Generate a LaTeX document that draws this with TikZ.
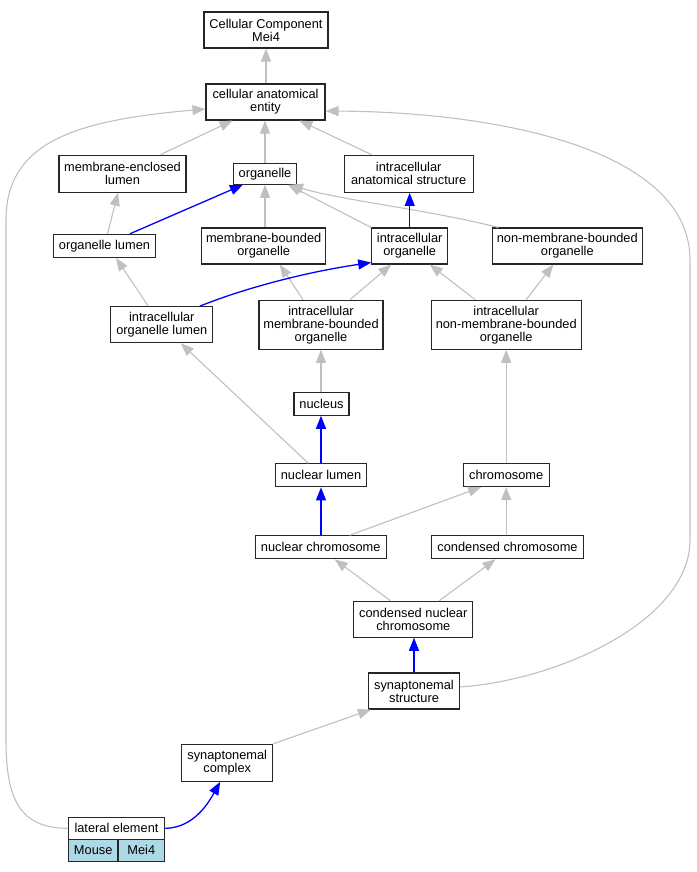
\documentclass[tikz,border=0pt]{standalone}
\usepackage{fontspec}
\setmainfont{Liberation Sans}
\usetikzlibrary{arrows.meta}
\definecolor{speciesblue}{HTML}{ADD8E6}
\definecolor{isagray}{HTML}{C0C0C0}

\tikzset{
	term/.style={draw=black!85, line width=1.1pt, fill=white, align=center,
		inner sep=0pt, font=\fontsize{12.8}{13}\selectfont},
	isa/.style={draw=isagray, line width=1.1pt, -{Triangle[length=13pt,width=10pt]}},
	partof/.style={draw=blue, line width=1.3pt, -{Triangle[length=13pt,width=10pt]}},
}

\begin{document}
\begin{tikzpicture}[x=1pt, y=-1pt]
	\useasboundingbox (0,0) rectangle (696,872);
	% terms
	\node[term, minimum width=124pt, minimum height=36pt] (cc) at (266,30) {Cellular Component\\Mei4};
	\node[term, minimum width=119pt, minimum height=36pt] (cae) at (265.5,102) {cellular anatomical\\entity};
	\node[term, minimum width=127pt, minimum height=37pt] (mel) at (122.5,173.7) {membrane-enclosed\\lumen};
	\node[term, minimum width=63pt, minimum height=21pt] (org) at (265,173.7) {organelle};
	\node[term, minimum width=129pt, minimum height=37pt] (ias) at (408.7,173.8) {intracellular\\anatomical structure};
	\node[term, minimum width=102pt, minimum height=23pt] (ol) at (104.5,245.8) {organelle lumen};
	\node[term, minimum width=124pt, minimum height=36pt] (mbo) at (263.7,246) {membrane-bounded\\organelle};
	\node[term, minimum width=76pt, minimum height=36pt] (io) at (409.7,246) {intracellular\\organelle};
	\node[term, minimum width=150pt, minimum height=36pt] (nmbo) at (567.3,246) {non-membrane-bounded\\organelle};
	\node[term, minimum width=102pt, minimum height=36pt] (iol) at (161.8,324.7) {intracellular\\organelle lumen};
	\node[term, minimum width=124pt, minimum height=49pt] (imbo) at (321,324.7) {intracellular\\membrane-bounded\\organelle};
	\node[term, minimum width=150pt, minimum height=49pt] (inmbo) at (506.2,324.7) {intracellular\\non-membrane-bounded\\organelle};
	\node[term, minimum width=55pt, minimum height=23pt] (nuc) at (321.5,403.7) {nucleus};
	\node[term, minimum width=91pt, minimum height=23pt] (nl) at (321,475.3) {nuclear lumen};
	\node[term, minimum width=86pt, minimum height=23pt] (chr) at (506.2,475) {chromosome};
	\node[term, minimum width=131pt, minimum height=23pt] (nchr) at (320.7,547.3) {nuclear chromosome};
	\node[term, minimum width=152pt, minimum height=23pt] (cchr) at (507.5,547.3) {condensed chromosome};
	\node[term, minimum width=119pt, minimum height=36pt] (cnc) at (413.3,619.2) {condensed nuclear\\chromosome};
	\node[term, minimum width=91pt, minimum height=36pt] (ss) at (414,691) {synaptonemal\\structure};
	\node[term, minimum width=91pt, minimum height=37pt] (sc) at (227.2,762.8) {synaptonemal\\complex};
	\node[term, minimum width=96.4pt, minimum height=22pt] (le) at (116.5,828.3) {lateral element};
	\node[term, fill=speciesblue, minimum width=49.7pt, minimum height=21.7pt] (mouse) at (93.2,850.2) {Mouse};
	\node[term, fill=speciesblue, minimum width=46.7pt, minimum height=21.7pt] (mei) at (141.3,850.2) {Mei4};

	% is_a
	\draw[isa] (cae.north -| cc) -- (cc.south);
	\draw[isa] ([xshift=38pt]mel.north) -- ([xshift=-33pt]cae.south);
	\draw[isa] (org.north) -- (org.north |- cae.south);
	\draw[isa] ([xshift=-37pt]ias.north) -- ([xshift=34pt]cae.south);
	\draw[isa] (le.west) .. controls (20,828) and (6,800) .. (6,740) -- (6,220)
		.. controls (6,140) and (80,120) .. ([yshift=-7pt]cae.west);
	\draw[isa] ([yshift=4pt]ss.east) .. controls (560,680) and (690,620) .. (690,540) -- (690,260)
		.. controls (690,150) and (500,112) .. ([yshift=-9pt]cae.east);
	\draw[isa] ([xshift=3pt]ol.north) -- ([xshift=-4.5pt]mel.south);
	\draw[isa] (mbo.north -| org) -- (org.south);
	\draw[isa] (io.north west) -- ([xshift=23pt]org.south);
	\draw[isa] ([xshift=-69pt]nmbo.north) .. controls (430,210) and (340,200) .. ([xshift=25pt]org.south);
	\draw[isa] ([xshift=-13.5pt]iol.north) -- ([xshift=11.5pt]ol.south);
	\draw[isa] ([xshift=-18pt]imbo.north) -- ([xshift=16pt]mbo.south);
	\draw[isa] ([xshift=29pt]imbo.north) -- ([xshift=-18.5pt]io.south);
	\draw[isa] ([xshift=-31pt]inmbo.north) -- ([xshift=20pt]io.south);
	\draw[isa] ([xshift=20pt]inmbo.north) -- ([xshift=-14pt]nmbo.south);
	\draw[isa] (nuc.north -| imbo) -- (imbo.south);
	\draw[isa] ([xshift=-12.7pt]nl.north) -- ([xshift=19pt]iol.south);
	\draw[isa] (chr.north -| inmbo) -- (inmbo.south);
	\draw[isa] ([xshift=29pt]nchr.north) -- ([xshift=-25pt]chr.south);
	\draw[isa] (cchr.north -| chr) -- (chr.south);
	\draw[isa] ([xshift=-23pt]cnc.north) -- ([xshift=14pt]nchr.south);
	\draw[isa] ([xshift=26pt]cnc.north) -- ([xshift=-12pt]cchr.south);
	\draw[isa] (sc.north east) -- ([xshift=3pt]ss.south west);

	% part_of
	\draw[partof] ([xshift=25.5pt]ol.north) -- ([xshift=-22pt]org.south);
	\draw[partof] (io.north) -- (io.north |- ias.south);
	\draw[partof] ([xshift=38pt]iol.north) .. controls (240,290) and (300,273) .. ([yshift=2pt]io.south west);
	\draw[partof] (nl.north) -- (nl.north |- nuc.south);
	\draw[partof] (nchr.north -| nl) -- (nl.south);
	\draw[partof] (ss.north) -- (ss.north |- cnc.south);
	\draw[partof] (le.east) .. controls (195,828) and (210,800) .. ([xshift=-7pt]sc.south);
\end{tikzpicture}
\end{document}
